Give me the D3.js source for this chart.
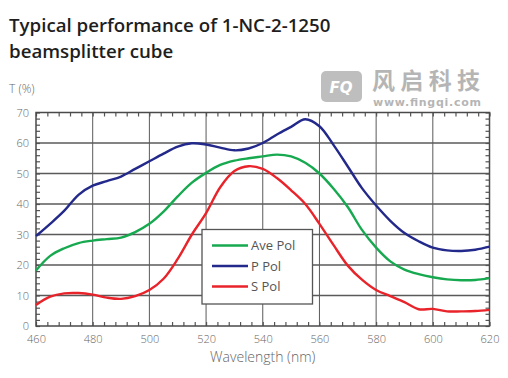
<!DOCTYPE html>
<html>
<head>
<meta charset="utf-8">
<script src="https://cdn.jsdelivr.net/npm/d3@7"></script>
<style>
  body { margin: 0; background: #fff; }
  svg { display: block; }
</style>
</head>
<body>
<div id="chart-wrapper"></div>
<script>
let width = 508
let height = 378

// data, every 5 nm
let wavelengths = [
  460, 465, 470, 475, 480, 485, 490, 495, 500, 505, 510, 515, 520, 525, 530, 535, 540,
  545, 550, 555, 560, 565, 570, 575, 580, 585, 590, 595, 600, 605, 610, 615, 620
]
let avePol = [
  18.2, 23, 25.5, 27.2, 28, 28.5, 29, 30.8, 33.5, 37.5, 42.5, 47, 50.2, 52.8, 54.2, 55, 55.6,
  56.2, 55.6, 53.5, 50, 45, 39, 31.5, 25.7, 21.2, 18.5, 17, 16, 15.3, 15, 15.1, 15.7
]
let pPol = [
  29.5, 33.5, 37.8, 43, 46, 47.5, 49, 51.5, 54, 56.5, 58.8, 59.9, 59.5, 58.5, 57.6, 58.2, 60,
  62.8, 65.3, 67.8, 65.5, 59.3, 52.3, 45.2, 39.5, 34.5, 30.5, 27.8, 25.7, 24.8, 24.6, 25, 26
]
let sPol = [
  6.9, 9.6, 10.7, 10.8, 10.3, 9.3, 8.9, 9.8, 11.8, 15.5, 22, 30, 37, 45.5, 50.8, 52.4, 51.5,
  48.5, 44.5, 40, 33.5, 26.5, 19.8, 15.2, 11.8, 9.8, 7.8, 5.5, 5.6, 4.8, 4.8, 4.9, 5.3
]
let seriesNames = ["Ave Pol", "P Pol", "S Pol"]
let xTicks = [460, 480, 500, 520, 540, 560, 580, 600, 620]
let yTicks = [0, 10, 20, 30, 40, 50, 60, 70]
let titleLines = ["Typical performance of 1-NC-2-1250", "beamsplitter cube"]

let color = ["#17a94f", "#23298a", "#e8232a"]
let gridColor = "#5a5a5a"
let labelColor = "#666"

let margin = {top: 112.5, right: 18.5, bottom: 52, left: 36}
let graphWidth = width - margin.left - margin.right
let graphHeight = height - margin.top - margin.bottom

let svg = d3
  .select("#chart-wrapper")
  .append("svg")
  .attr("width", width)
  .attr("height", height)

// Title
svg.append("g")
  .selectAll("text")
  .data(titleLines)
  .enter()
  .append("text")
  .attr("x", 9)
  .attr("y", (d, i) => 32 + i * 25.5)
  .attr("font-family", "'Open Sans', sans-serif")
  .attr("font-weight", 600)
  .attr("font-size", 18.7)
  .attr("fill", "#1e1e1e")
  .text(d => d)

// watermark
let wm = svg.append("g").attr("opacity", 0.55)
wm.append("rect")
  .attr("x", 321).attr("y", 71).attr("width", 41).attr("height", 31)
  .attr("rx", 5).attr("fill", "#8a8a8a")
wm.append("text")
  .attr("x", 341).attr("y", 93)
  .attr("text-anchor", "middle")
  .attr("font-family", "'DejaVu Sans', sans-serif")
  .attr("font-weight", "bold").attr("font-style", "italic")
  .attr("font-size", 15).attr("fill", "#fff")
  .text("FQ")
wm.append("text")
  .attr("x", 372).attr("y", 89)
  .attr("font-family", "'Noto Sans CJK SC', sans-serif")
  .attr("font-weight", "bold")
  .attr("font-size", 23).attr("fill", "#7a7a7a")
  .attr("textLength", 108)
  .text("风启科技")
wm.append("text")
  .attr("x", 373).attr("y", 106)
  .attr("font-family", "'DejaVu Sans', sans-serif")
  .attr("font-weight", "bold")
  .attr("font-size", 11).attr("fill", "#7a7a7a")
  .attr("textLength", 108)
  .text("www.fingqi.com")

// y axis title
svg.append("text")
  .attr("x", 9).attr("y", 93)
  .attr("font-family", "'Open Sans', sans-serif")
  .attr("font-weight", 300)
  .attr("font-size", 12)
  .attr("fill", labelColor)
  .text("T (%)")

let graph = svg
  .append("g")
  .attr("class", "graph")
  .attr("transform", `translate(${margin.left},${margin.top})`)

// X Scale
let x = d3
  .scaleLinear()
  .domain([460, 620])
  .range([0, graphWidth])
// Y Scale
let y = d3
  .scaleLinear()
  .domain([0, 70])
  .range([graphHeight, 0])

// grid
graph.append("g")
  .selectAll("line")
  .data(xTicks.slice(1, -1))
  .enter()
  .append("line")
  .attr("x1", d => x(d)).attr("x2", d => x(d))
  .attr("y1", 0).attr("y2", graphHeight)
  .attr("stroke", gridColor)
  .attr("stroke-width", 1)
graph.append("g")
  .selectAll("line")
  .data(yTicks.slice(1, -1))
  .enter()
  .append("line")
  .attr("x1", 0).attr("x2", graphWidth)
  .attr("y1", d => y(d)).attr("y2", d => y(d))
  .attr("stroke", gridColor)
  .attr("stroke-width", 1.6)

// minor ticks, pointing inward
let xMinor = d3.range(460, 621, 4)
let yMinor = d3.range(0, 71, 2)
graph.append("g")
  .call(d3.axisTop(x).tickValues(xMinor).tickSize(-4).tickFormat(""))
  .call(g => g.select(".domain").remove())
graph.append("g")
  .attr("transform", `translate(0,${graphHeight})`)
  .call(d3.axisBottom(x).tickValues(xMinor).tickSize(-4).tickFormat(""))
  .call(g => g.select(".domain").remove())
graph.append("g")
  .call(d3.axisLeft(y).tickValues(yMinor).tickSize(-4).tickFormat(""))
  .call(g => g.select(".domain").remove())
graph.append("g")
  .attr("transform", `translate(${graphWidth},0)`)
  .call(d3.axisRight(y).tickValues(yMinor).tickSize(-4).tickFormat(""))
  .call(g => g.select(".domain").remove())
graph.selectAll(".tick line").attr("stroke", "#555").attr("stroke-width", 1.2)

// X Axis labels
let xAxis = graph.append("g")
  .attr("class", "xAxis")
  .attr("transform", `translate(0,${graphHeight})`)
  .call(d3.axisBottom(x).tickValues(xTicks).tickSize(0).tickPadding(9))
xAxis.select(".domain").remove()

// Y Axis labels
let yAxis = graph.append("g")
  .attr("class", "yAxis")
  .call(d3.axisLeft(y).tickValues(yTicks).tickSize(0).tickPadding(7))
yAxis.select(".domain").remove()

d3.selectAll(".xAxis text, .yAxis text")
  .attr("font-family", "'Open Sans', sans-serif")
  .attr("font-weight", 300)
  .attr("font-size", 11)
  .attr("fill", labelColor)

// frame
graph.append("rect")
  .attr("width", graphWidth)
  .attr("height", graphHeight)
  .attr("fill", "none")
  .attr("stroke", "#4a4a4a")
  .attr("stroke-width", 1.5)

// lines
let line = d3
  .line()
  .x((d, i) => x(wavelengths[i]))
  .y(d => y(d))
  .curve(d3.curveCatmullRom.alpha(0.5))

let allSeries = [avePol, pPol, sPol]
graph.append("g")
  .selectAll("path")
  .data(allSeries)
  .enter()
  .append("path")
  .attr("fill", "none")
  .attr("stroke", (d, i) => color[i])
  .attr("stroke-width", 2.4)
  .attr("stroke-linejoin", "round")
  .attr("d", d => line(d))

// legend
let legend = svg.append("g").attr("transform", "translate(202,229.5)")
legend.append("rect")
  .attr("width", 110.5)
  .attr("height", 74.5)
  .attr("fill", "#fff")
  .attr("stroke", "#555")
  .attr("stroke-width", 1.3)
let items = legend.selectAll(".item")
  .data(seriesNames)
  .enter()
  .append("g")
  .attr("class", "item")
  .attr("transform", (d, i) => `translate(0,${16 + i * 20.5})`)
items.append("line")
  .attr("x1", 10).attr("x2", 46)
  .attr("stroke", (d, i) => color[i])
  .attr("stroke-width", 2.4)
items.append("text")
  .attr("x", 49).attr("y", 4.5)
  .attr("font-family", "'Open Sans', sans-serif")
  .attr("font-size", 13)
  .attr("fill", "#555")
  .text(d => d)

// x axis title
svg.append("text")
  .attr("x", margin.left + graphWidth / 2)
  .attr("y", 362)
  .attr("text-anchor", "middle")
  .attr("font-family", "'Open Sans', sans-serif")
  .attr("font-weight", 300)
  .attr("font-size", 14)
  .attr("fill", labelColor)
  .text("Wavelength (nm)")
</script>
</body>
</html>
